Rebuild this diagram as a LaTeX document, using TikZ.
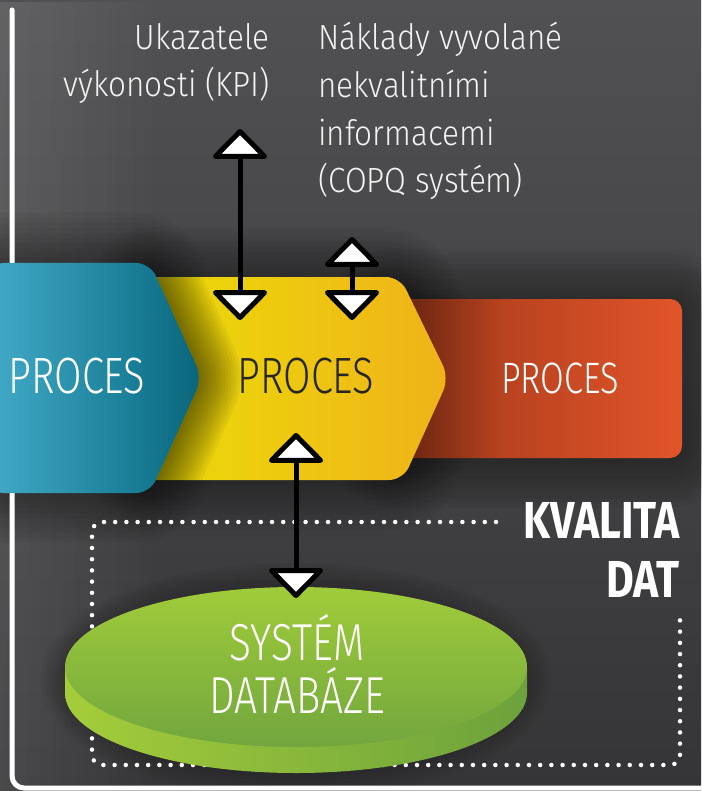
\documentclass[tikz,border=0pt]{standalone}
\usepackage{fontspec}
\setmainfont{Fira Sans}
\newfontfamily\procfont[FakeStretch=0.78]{Fira Sans Light}
\newfontfamily\labfont[FakeStretch=0.90]{Fira Sans Light}
\newfontfamily\kvfont[FakeStretch=0.82]{Fira Sans}
\usetikzlibrary{arrows.meta,fadings}
\definecolor{bgA}{HTML}{515153}
\definecolor{bgB}{HTML}{353537}
\definecolor{blA}{HTML}{42AAC8}
\definecolor{blB}{HTML}{1A7F98}
\definecolor{blC}{HTML}{0A647A}
\definecolor{yeA}{HTML}{E6D60A}
\definecolor{yeB}{HTML}{ECD20C}
\definecolor{yeC}{HTML}{F0B21A}
\definecolor{rdA}{HTML}{5A1E0E}
\definecolor{rdB}{HTML}{7C2C14}
\definecolor{rdC}{HTML}{B8421F}
\definecolor{rdD}{HTML}{E2552A}
\definecolor{grTop}{HTML}{A0CC3A}
\definecolor{grBot}{HTML}{72A63E}
\definecolor{grL}{HTML}{A5CD3A}
\definecolor{grR}{HTML}{6CA23C}
\definecolor{ink}{HTML}{262626}
\definecolor{labtxt}{HTML}{F2F2F2}
\pgfdeclarehorizontalshading{blueshade}{100bp}{color(0bp)=(blA); color(25bp)=(blA); color(58bp)=(blB); color(75bp)=(blC); color(100bp)=(blC)}
\pgfdeclarehorizontalshading{yelshade}{100bp}{color(0bp)=(yeA); color(25bp)=(yeA); color(38bp)=(yeB); color(75bp)=(yeC); color(100bp)=(yeC)}
\pgfdeclarehorizontalshading{redshade}{100bp}{color(0bp)=(rdA); color(25bp)=(rdA); color(33bp)=(rdB); color(45bp)=(rdC); color(75bp)=(rdD); color(100bp)=(rdD)}
\tikzset{
  bluepath/.style={insert path={(-10,263) -- (150,263) -- (202,378) -- (150,493) -- (-10,493) -- cycle}},
  yelpath/.style={insert path={(140,277) -- (400,277) -- (449,378) -- (403,480) -- (140,480) -- cycle}},
  redpath/.style={insert path={(380,299) rectangle (682,458)}},
  proc/.style={font=\procfont\fontsize{51}{51}\selectfont, inner sep=0pt, anchor=base},
  procsmall/.style={font=\procfont\fontsize{44}{44}\selectfont, inner sep=0pt, anchor=base},
  lab/.style={font=\labfont\fontsize{35}{47.7}\selectfont, text=labtxt, inner sep=0pt},
  kv/.style={font=\kvfont\bfseries\fontsize{52}{59}\selectfont, text=white, inner sep=0pt},
  dbtext/.style={font=\procfont\fontsize{52}{53}\selectfont, text=white, inner sep=0pt},
  dbl/.style={draw=black, line width=5pt,
    {Triangle[width=60pt,length=31pt,fill=white,round]}-{Triangle[width=60pt,length=31pt,fill=white,round]}},
  dotbox/.style={draw=white, line width=4.5pt, line cap=round, dash pattern=on 0pt off 11.2pt, rounded corners=10pt},
  frame/.style={draw=white, line width=5pt, line cap=round, rounded corners=12pt},
  halo/.style={line width=#1, black, opacity=0.035, line join=round}
}
\begin{document}
\begin{tikzpicture}[x=1pt,y=-1pt]
\useasboundingbox (0,0) rectangle (701,791);
% background
\shade[top color=bgA, bottom color=bgB] (0,0) rectangle (701,791);
\fill[white, opacity=0.10, path fading=east] (0,0) rectangle (160,791);
% soft halos
\foreach \w in {10,20,...,100}{
  \draw[halo=\w pt, rounded corners=14pt, yelpath];
  \draw[halo=\w pt, rounded corners=12pt, redpath];
  \draw[halo=\w pt, rounded corners=14pt, bluepath];
}
\foreach \w in {8,16,...,48}{
  \draw[halo=\w pt] (296,680) ellipse [x radius=231, y radius=93];
}
% frame line
\draw[frame] (12,10) -- (12,788) -- (720,788);
% process shapes
\shade[shading=redshade, rounded corners=12pt, redpath];
\shade[shading=yelshade, rounded corners=14pt, yelpath];
\begin{scope}
  \clip[rounded corners=14pt, yelpath];
  \foreach \w in {6,12,...,84}{
    \draw[line width=\w pt, black, opacity=0.045, line join=round, rounded corners=14pt, bluepath];
  }
\end{scope}
\shade[shading=blueshade, rounded corners=14pt, bluepath];
\node[proc, text=white] (p1) at (77,393) {PROCES};
\node[proc, text=ink] (p2) at (306,393) {PROCES};
\node[procsmall, text=white] (p3) at (560,393) {PROCES};
% top labels (anchor base = baseline of last line)
\node[lab, anchor=base east, align=right] (kpi) at (270,97) {Ukazatele\\výkonosti (KPI)};
\node[lab, anchor=base west, align=left] (copq) at (318,193) {Náklady vyvolané\\nekvalitními\\informacemi\\(COPQ systém)};
% quality box
\draw[dotbox] (496,522) -- (92,522) -- (92,765) -- (680,765) -- (680,613);
\node[kv, anchor=base east, align=right] (kval) at (680,597) {KVALITA\\DAT};
% database cylinder
\shade[left color=grL, right color=grR] (65,667) rectangle (527,693);
\shade[left color=grL, right color=grR] (296,693) ellipse [x radius=231, y radius=80];
\shade[top color=grTop, bottom color=grBot] (296,667) ellipse [x radius=231, y radius=80];
\node[dbtext, align=center, anchor=base] (db) at (297,713) {SYSTÉM\\DATABÁZE};
% connectors
\coordinate (kpiT) at (240,129);
\coordinate (kpiB) at (240,320);
\coordinate (cqT) at (352,237);
\coordinate (cqB) at (352,320);
\coordinate (dbT) at (296,433);
\coordinate (dbB) at (296,598);
\draw[dbl] (kpiT) -- (kpiB);
\draw[dbl] (cqT) -- (cqB);
\draw[dbl] (dbT) -- (dbB);
\end{tikzpicture}
\end{document}
